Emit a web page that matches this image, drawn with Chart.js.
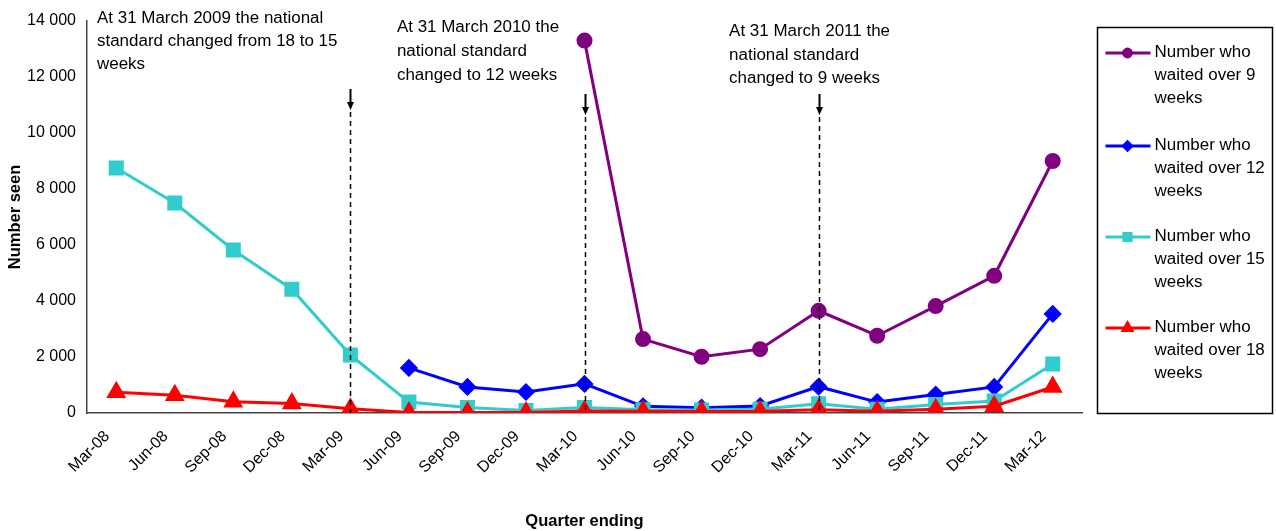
<!DOCTYPE html>
<html>
<head>
<meta charset="utf-8">
<script src="https://cdn.jsdelivr.net/npm/chart.js@4/dist/chart.umd.min.js"></script>
<style>
html,body{margin:0;padding:0;background:#fff;}
#wrap{width:1276px;height:531px;position:relative;}
</style>
</head>
<body>
<div id="wrap"><canvas id="c" width="1276" height="531"></canvas></div>
<script>
const categories = ['Mar-08','Jun-08','Sep-08','Dec-08','Mar-09','Jun-09','Sep-09','Dec-09','Mar-10','Jun-10','Sep-10','Dec-10','Mar-11','Jun-11','Sep-11','Dec-11','Mar-12'];
const over9Weeks  = [null,null,null,null,null,null,null,null,13300,2640,2010,2280,3650,2760,3820,4900,9000];
const over12Weeks = [null,null,null,null,null,1610,930,750,1040,240,190,250,940,390,660,930,3540];
const over15Weeks = [8750,7500,5820,4420,2070,390,200,90,200,120,110,130,330,130,300,430,1750];
const over18Weeks = [740,630,400,340,150,20,20,20,70,60,50,60,120,60,130,240,930];
const seriesNames = [
  ['Number who','waited over 9','weeks'],
  ['Number who','waited over 12','weeks'],
  ['Number who','waited over 15','weeks'],
  ['Number who','waited over 18','weeks']
];
const yTicks = [0,2000,4000,6000,8000,10000,12000,14000];
const changePoints = ['Mar-09','Mar-10','Mar-11'];
const notes = [
  ['At 31 March 2009 the national','standard changed from 18 to 15','weeks'],
  ['At 31 March 2010 the','national standard','changed to 12 weeks'],
  ['At 31 March 2011 the','national standard','changed to 9 weeks']
];

const FONT = "'Liberation Sans', Arial, sans-serif";

function wideText(ctx, t, x, y) {
  ctx.save();
  ctx.translate(x, y);
  ctx.scale(1.06, 1);
  ctx.fillText(t, 0, 0);
  ctx.restore();
}

const notesPlugin = {
  id: 'notes',
  afterDatasetsDraw(chart) {
    const ctx = chart.ctx, x = chart.scales.x, y = chart.scales.y;
    const top0 = chart.chartArea.top;
    const bottom = y.getPixelForValue(0);
    const arrows = [{a: 68, t: 89}, {a: 73, t: 94}, {a: 73, t: 94}];
    ctx.save();
    changePoints.forEach((c, i) => {
      const px = Math.round(x.getPixelForValue(categories.indexOf(c))) + 0.5;
      const aTop = top0 + arrows[i].a;
      const aTip = top0 + arrows[i].t;
      ctx.strokeStyle = '#000';
      ctx.lineWidth = 1.5;
      ctx.setLineDash([5,4]);
      ctx.beginPath(); ctx.moveTo(px, aTip + 2); ctx.lineTo(px, bottom); ctx.stroke();
      ctx.setLineDash([]);
      ctx.lineWidth = 2;
      ctx.beginPath(); ctx.moveTo(px, aTop); ctx.lineTo(px, aTip - 6); ctx.stroke();
      ctx.fillStyle = '#000';
      ctx.beginPath(); ctx.moveTo(px-3.5, aTip-8); ctx.lineTo(px+3.5, aTip-8); ctx.lineTo(px, aTip); ctx.closePath(); ctx.fill();
    });
    ctx.fillStyle = '#000';
    ctx.font = '16px ' + FONT;
    ctx.textBaseline = 'middle';
    ctx.textAlign = 'left';
    const anchors = [
      {x: chart.chartArea.left + 10, y: top0 - 2, s: 23},
      {x: x.getPixelForValue(5) - 12, y: top0 + 7, s: 24},
      {x: x.getPixelForValue(11) - 31, y: top0 + 11, s: 23.5}
    ];
    notes.forEach((lines, i) => {
      lines.forEach((t, j) => wideText(ctx, t, anchors[i].x, anchors[i].y + j * anchors[i].s));
    });
    ctx.restore();
  }
};

const legendPlugin = {
  id: 'boxLegend',
  afterDraw(chart) {
    const ctx = chart.ctx;
    const left = chart.chartArea.right + 15.5;
    const top = 27.5, right = 1272.5, bot = 413.5;
    ctx.save();
    ctx.strokeStyle = '#000';
    ctx.lineWidth = 1.5;
    ctx.strokeRect(left, top, right - left, bot - top);
    ctx.font = '16px ' + FONT;
    ctx.textBaseline = 'middle';
    ctx.textAlign = 'left';
    const rowStarts = [53, 146, 237, 328];
    chart.data.datasets.forEach((ds, i) => {
      const yy = rowStarts[i];
      ctx.strokeStyle = ds.borderColor;
      ctx.lineWidth = 3;
      ctx.beginPath(); ctx.moveTo(left + 8, yy); ctx.lineTo(left + 53, yy); ctx.stroke();
      ctx.fillStyle = ds.backgroundColor;
      ctx.strokeStyle = ds.backgroundColor;
      Chart.helpers.drawPoint(ctx, {
        pointStyle: ds.pointStyle, radius: ds.pointRadius * 0.6, borderWidth: 1, rotation: 0
      }, left + 30, yy);
      ctx.fillStyle = '#000';
      seriesNames[i].forEach((t, j) => wideText(ctx, t, left + 57, yy + j * 22.7));
    });
    ctx.restore();
  }
};

function mk(label, data, color, style, radius, order) {
  return {
    label, data,
    borderColor: color, backgroundColor: color,
    pointBackgroundColor: color, pointBorderColor: color,
    pointStyle: style, pointRadius: radius, pointHoverRadius: radius,
    borderWidth: 3, order, tension: 0, fill: false
  };
}

new Chart(document.getElementById('c'), {
  type: 'line',
  data: {
    labels: categories,
    datasets: [
      mk(seriesNames[0].join(' '), over9Weeks, '#800080', 'circle', 6.5, 4),
      mk(seriesNames[1].join(' '), over12Weeks, '#0000FF', 'rectRot', 7, 3),
      mk(seriesNames[2].join(' '), over15Weeks, '#33CCCC', 'rect', 8.5, 2),
      mk(seriesNames[3].join(' '), over18Weeks, '#FF0000', 'triangle', 8.5, 1)
    ]
  },
  options: {
    responsive: false,
    animation: false,
    devicePixelRatio: 1,
    layout: { padding: { top: 21, right: 194, left: 0, bottom: 0 } },
    plugins: { legend: { display: false }, tooltip: { enabled: false } },
    scales: {
      x: {
        offset: true,
        grid: { display: false, drawTicks: false },
        border: { display: true, color: '#444', width: 1.5 },
        ticks: {
          minRotation: 45, maxRotation: 45, autoSkip: false,
          color: '#000', font: { family: FONT, size: 16 }, padding: 14, labelOffset: -9
        },
        title: { display: true, text: 'Quarter ending', color: '#000',
          font: { family: FONT, size: 16.5, weight: 'bold' }, padding: { top: 0, bottom: 0 } },
        afterFit(s) { s.height = 118; }
      },
      y: {
        min: 0, max: 14000,
        afterBuildTicks(s) { s.ticks = yTicks.map(v => ({ value: v })); },
        grid: { display: false, drawTicks: false },
        border: { display: true, color: '#444', width: 1.5 },
        ticks: {
          color: '#000', font: { family: FONT, size: 16 }, padding: 11,
          callback: (v) => String(v).replace(/\B(?=(\d{3})+(?!\d))/g, ' ')
        },
        title: { display: true, text: 'Number seen', color: '#000',
          font: { family: FONT, size: 16.5, weight: 'bold' }, padding: { top: 6, bottom: 0 } },
        afterFit(s) { s.width = 87; }
      }
    }
  },
  plugins: [notesPlugin, legendPlugin]
});
</script>
</body>
</html>
